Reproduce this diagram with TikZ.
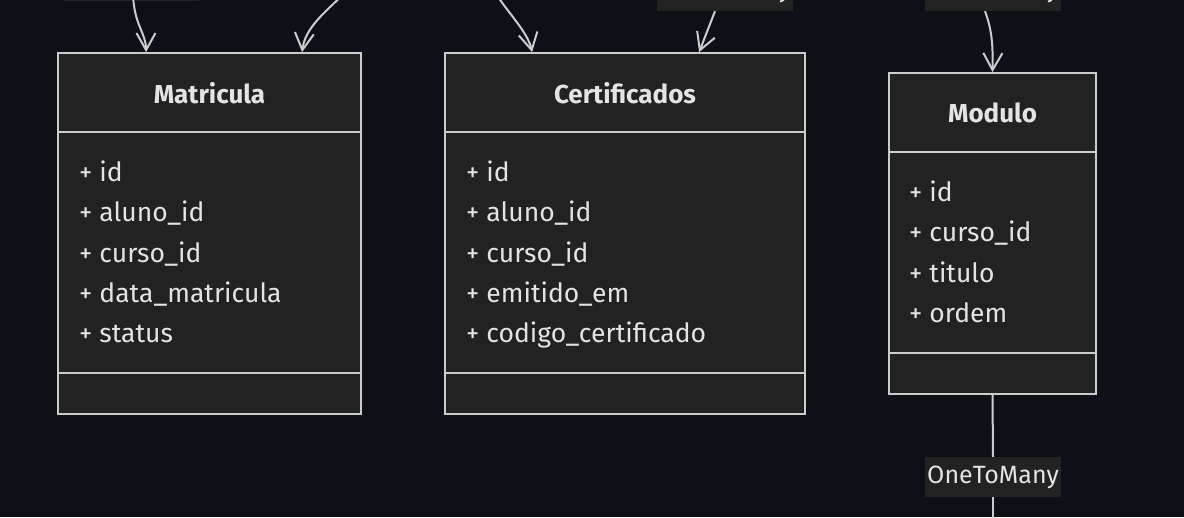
\documentclass[tikz,border=0pt]{standalone}
\usepackage{fontspec}
\setmainfont{Fira Sans}
\usetikzlibrary{arrows.meta,calc}
\definecolor{bgc}{RGB}{13,16,23}
\definecolor{boxfill}{RGB}{33,34,33}
\definecolor{boxline}{RGB}{204,204,204}
\definecolor{txt}{RGB}{228,228,228}
\tikzset{
  cls/.style={draw=boxline, line width=1.8pt, fill=boxfill, inner sep=0pt, rectangle},
  divider/.style={draw=boxline, line width=1.8pt},
  title/.style={font=\fontsize{26}{30}\selectfont\bfseries, text=txt, inner sep=0pt},
  attr/.style={font=\fontsize{26.5}{30}\selectfont, text=txt, inner sep=0pt, anchor=base west},
  rel/.style={draw=boxline, line width=2pt},
  arr/.style={rel, -{Straight Barb[length=17pt,width=19pt,line width=2pt]}},
  lbl/.style={fill=boxfill, text=txt, font=\fontsize{25}{30}\selectfont, minimum width=136pt, minimum height=40pt, inner sep=0pt},
}
\begin{document}
\begin{tikzpicture}[x=1pt,y=-1pt]
\useasboundingbox (0,0) rectangle (1184,517);
\fill[bgc] (0,0) rectangle (1184,517);
\begin{scope}
\clip (0,0) rectangle (1184,517);
% top labels (cut off)
\node[lbl] (l1) at (131,-19) {OneToMany};
\node[lbl] (l2) at (725,-9) {OneToMany};
\node[lbl] (l3) at (993,-9) {OneToMany};
% Matricula
\node[cls, minimum width=303pt, minimum height=361pt] (mat) at (209.5,233.5) {};
\draw[divider] ($(mat.north west)+(0,80)$) -- ($(mat.north east)+(0,80)$);
\draw[divider] ($(mat.north west)+(0,321)$) -- ($(mat.north east)+(0,321)$);
\node[title] (matT) at (209.5,93) {Matricula};
\node[attr] (m1) at (79,181) {+ id};
\node[attr] (m2) at (79,221.5) {+ aluno\_id};
\node[attr] (m3) at (79,262) {+ curso\_id};
\node[attr] (m4) at (79,302) {+ data\_matricula};
\node[attr] (m5) at (79,342) {+ status};
% Certificados
\node[cls, minimum width=360pt, minimum height=361pt] (cert) at (625,233.5) {};
\draw[divider] ($(cert.north west)+(0,80)$) -- ($(cert.north east)+(0,80)$);
\draw[divider] ($(cert.north west)+(0,321)$) -- ($(cert.north east)+(0,321)$);
\node[title] (certT) at (625,93) {Certificados};
\node[attr] (c1) at (466,181) {+ id};
\node[attr] (c2) at (466,221.5) {+ aluno\_id};
\node[attr] (c3) at (466,262) {+ curso\_id};
\node[attr] (c4) at (466,302) {+ emitido\_em};
\node[attr] (c5) at (466,342) {+ codigo\_certificado};
% Modulo
\node[cls, minimum width=207pt, minimum height=321pt] (mod) at (992.5,233.5) {};
\draw[divider] ($(mod.north west)+(0,80)$) -- ($(mod.north east)+(0,80)$);
\draw[divider] ($(mod.north west)+(0,281)$) -- ($(mod.north east)+(0,281)$);
\node[title] (modT) at (992.5,113) {Modulo};
\node[attr] (d1) at (909,201) {+ id};
\node[attr] (d2) at (909,241.5) {+ curso\_id};
\node[attr] (d3) at (909,282) {+ titulo};
\node[attr] (d4) at (909,322) {+ ordem};
% free ends
\coordinate (s1) at (133,-6);
\coordinate (s2) at (346,-8);
\coordinate (s3) at (496,-6);
\coordinate (e6) at (993,530);
% connectors
\draw[arr] (s1) .. controls (134,25) and (146,33) .. ($(mat.north west)+(89,0)$);
\draw[arr] (s2) .. controls (325,12) and (305,28) .. ($(mat.north west)+(245,0)$);
\draw[arr] (s3) .. controls (510,15) and (528,33) .. ($(cert.north west)+(88,0)$);
\draw[arr] ($(l2.south)+(-10,0)$) -- ($(cert.north west)+(255,0)$);
\draw[arr] ($(l3.south)+(-8,0)$) .. controls (992,30) and (993,45) .. (mod.north);
\node[lbl] (l4) at (993,477) {OneToMany};
\draw[rel] (mod.south) -- (l4.north);
\draw[rel] (l4.south) -- (e6);
\end{scope}
\end{tikzpicture}
\end{document}
